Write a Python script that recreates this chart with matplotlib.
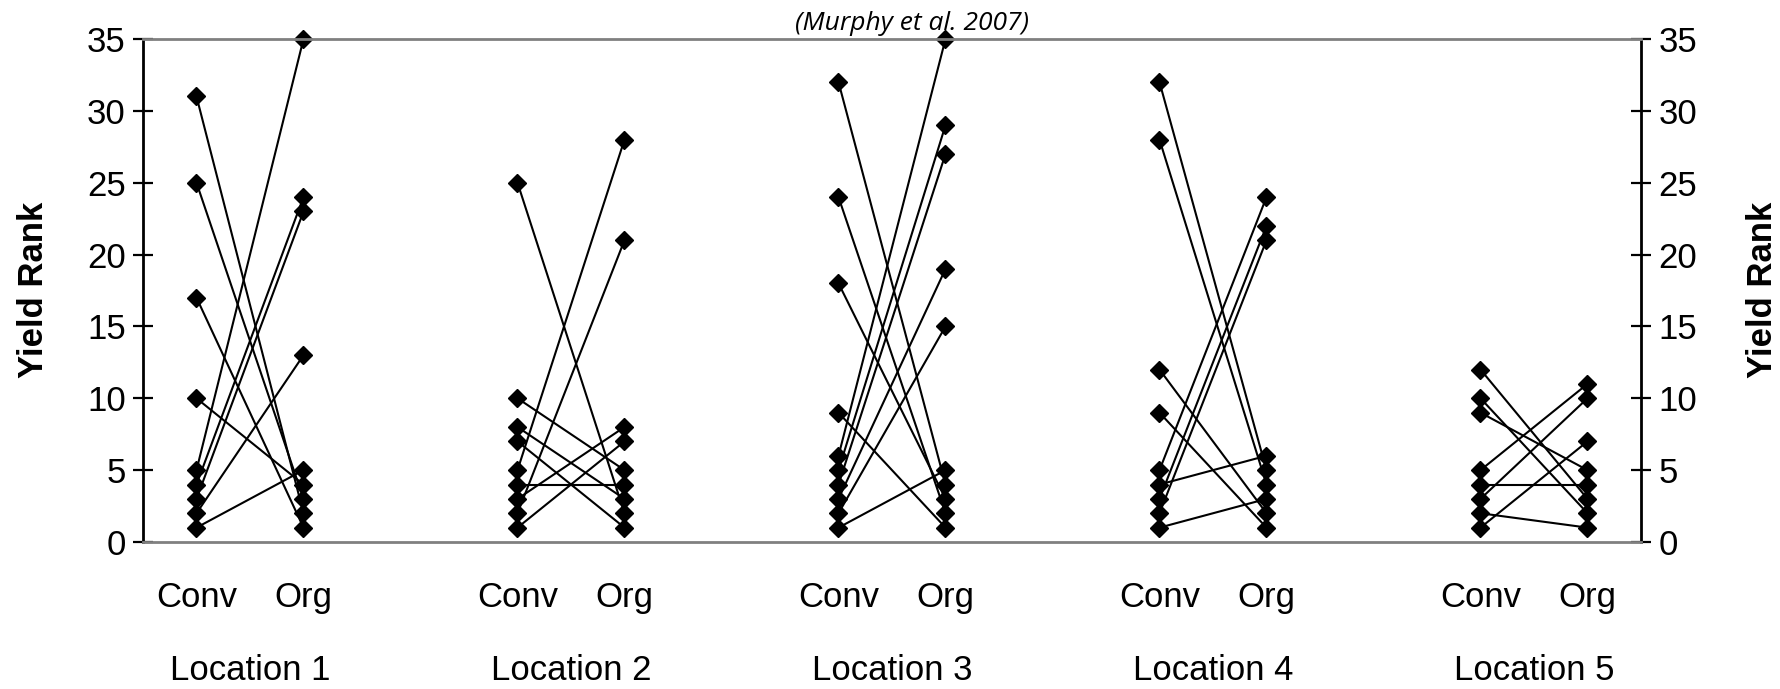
import matplotlib
matplotlib.use("Agg")
import matplotlib.pyplot as plt
from matplotlib import font_manager as fm

locations = ["Location 1", "Location 2", "Location 3", "Location 4", "Location 5"]
systems = ["Conv", "Org"]

# (Conv rank, Org rank) per variety, per location
loc1_conv = [31, 25, 17, 10, 5, 4, 3, 2, 1]
loc1_org = [2, 3, 1, 4, 35, 24, 23, 13, 5]
loc2_conv = [25, 10, 8, 7, 5, 4, 3, 2, 1]
loc2_org = [2, 5, 3, 1, 28, 4, 8, 21, 7]
loc3_conv = [32, 24, 18, 9, 6, 5, 4, 3, 2, 1]
loc3_org = [4, 2, 3, 1, 35, 29, 27, 19, 15, 5]
loc4_conv = [32, 28, 12, 9, 5, 4, 3, 2, 1]
loc4_org = [5, 4, 2, 1, 24, 6, 22, 21, 3]
loc5_conv = [12, 10, 9, 5, 4, 3, 2, 1]
loc5_org = [3, 2, 5, 11, 4, 10, 1, 7]

conv_data = [loc1_conv, loc2_conv, loc3_conv, loc4_conv, loc5_conv]
org_data = [loc1_org, loc2_org, loc3_org, loc4_org, loc5_org]

yticks = [0, 5, 10, 15, 20, 25, 30, 35]

avail = {f.name for f in fm.fontManager.ttflist}
narrow = ["Liberation Sans Narrow"] if "Liberation Sans Narrow" in avail else []
tick_family = narrow + ["Liberation Sans", "DejaVu Sans"]

fig = plt.figure(figsize=(17.81, 6.89), dpi=100)
ax = fig.add_axes([143/1781, 147/689, (1641-143)/1781, (542-39)/689])

for i in range(len(locations)):
    xc = 3 * i
    for c, o in zip(conv_data[i], org_data[i]):
        ax.plot([xc, xc + 1], [c, o], color="black", lw=1.5, marker="D",
                markersize=9.5, markerfacecolor="black", markeredgecolor="black",
                solid_capstyle="butt", clip_on=False)

ax.set_xlim(-0.5, 13.5)
ax.set_ylim(0, 35)
ax.set_yticks(yticks)
ax.set_yticklabels([str(v) for v in yticks], family=tick_family, fontsize=25)

for s in ["top", "bottom"]:
    ax.spines[s].set_color("#808080")
    ax.spines[s].set_linewidth(2)
for s in ["left", "right"]:
    ax.spines[s].set_color("black")
    ax.spines[s].set_linewidth(2)

ax.tick_params(axis="y", direction="inout", length=15, width=1.6, color="black",
               left=True, right=True, labelleft=True, labelright=True, pad=5)
ax.set_xticks([])

# category labels
for i, loc in enumerate(locations):
    xc = 3 * i
    for j, s in enumerate(systems):
        ax.text(xc + j, -0.11, s, transform=ax.get_xaxis_transform(),
                ha="center", va="center", family=tick_family, fontsize=25)
    ax.text(xc + 0.5, -0.255, loc, transform=ax.get_xaxis_transform(),
            ha="center", va="center", family=tick_family, fontsize=25)

fig.text(34/1781, 1 - 290/689, "Yield Rank", rotation=90, ha="center", va="center",
         fontsize=25, fontweight="bold", family=["Liberation Sans", "DejaVu Sans"])
fig.text(1763/1781, 1 - 290/689, "Yield Rank", rotation=90, ha="center", va="center",
         fontsize=25, fontweight="bold", family=["Liberation Sans", "DejaVu Sans"])

fig.text(912/1781, 1 - 23/689, "(Murphy et al. 2007)", ha="center", va="center",
         fontsize=19, style="italic", family=["Open Sans", "DejaVu Sans"])

fig.savefig("out.png", dpi=100)
